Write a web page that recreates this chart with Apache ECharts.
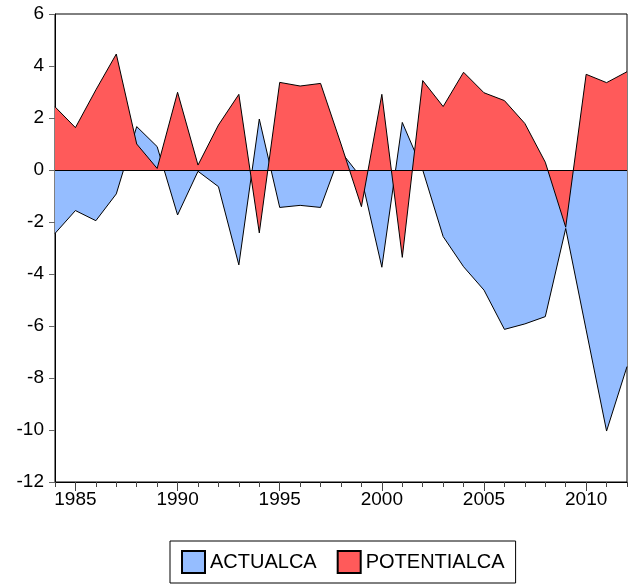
<!DOCTYPE html>
<html>
<head>
<meta charset="utf-8">
<script src="https://cdn.jsdelivr.net/npm/echarts@6/dist/echarts.min.js"></script>
<style>
  html, body { margin: 0; padding: 0; background: #fff; }
  #chart { width: 638px; height: 584px; }
</style>
</head>
<body>
<div id="chart"></div>
<script>
const years = [1984, 1985, 1986, 1987, 1988, 1989, 1990, 1991, 1992, 1993,
  1994, 1995, 1996, 1997, 1998, 1999, 2000, 2001, 2002, 2003,
  2004, 2005, 2006, 2007, 2008, 2009, 2010, 2011, 2012]

const actualCA = [-2.44, -1.56, -1.95, -0.92, 1.67, 0.9, -1.73, -0.05, -0.64, -3.65,
  1.96, -1.44, -1.36, -1.44, 0.7, -0.3, -3.74, 1.83, 0.0, -2.56,
  -3.72, -4.62, -6.13, -5.92, -5.64, -2.25, -6.15, -10.04, -7.56]

const potentialCA = [2.43, 1.63, 3.08, 4.46, 1.0, 0.06, 2.99, 0.19, 1.73, 2.91,
  -2.42, 3.37, 3.23, 3.33, 1.0, -1.41, 2.91, -3.36, 3.44, 2.44,
  3.76, 2.97, 2.67, 1.79, 0.3, -2.2, 3.68, 3.36, 3.78]

const labelYears = [1985, 1990, 1995, 2000, 2005, 2010]

const pairs = (vals) => years.map((y, i) => [y, vals[i]])

const chart = echarts.init(document.getElementById('chart'), null, { renderer: 'canvas' })

const font = 'Liberation Sans, Arial, sans-serif'

chart.setOption({
  animation: false,
  grid: {
    left: 55, right: 11, top: 14, bottom: 102,
    show: true, borderColor: '#000', borderWidth: 1,
  },
  legend: {
    top: 541,
    left: 170,
    data: ['ACTUALCA', 'POTENTIALCA'],
    icon: 'rect',
    itemWidth: 23,
    itemHeight: 22,
    itemGap: 20,
    padding: [9, 11, 9, 11],
    borderColor: '#000',
    borderWidth: 1,
    textStyle: { fontSize: 20, fontFamily: font, color: '#000' },
  },
  xAxis: [
    {
      type: 'value',
      min: 1984,
      max: 2012,
      interval: 1,
      splitLine: { show: false },
      axisLine: { onZero: false, lineStyle: { color: '#000' } },
      axisTick: { length: 5, lineStyle: { color: '#444' } },
      axisLabel: {
        fontSize: 19,
        fontFamily: font,
        color: '#000',
        margin: 8,
        formatter: (v) => (labelYears.includes(v) ? String(v) : ''),
      },
    },
    {
      // longer ticks at the labelled years
      type: 'value',
      position: 'bottom',
      min: 1984,
      max: 2012,
      splitLine: { show: false },
      axisLine: { show: false, onZero: false },
      axisLabel: { show: false, customValues: labelYears },
      axisTick: { length: 9, customValues: labelYears, lineStyle: { color: '#444' } },
    },
  ],
  yAxis: {
    type: 'value',
    min: -12,
    max: 6,
    interval: 2,
    splitLine: { show: false },
    axisLine: { show: true, lineStyle: { color: '#000' } },
    axisTick: { show: true, length: 6, lineStyle: { color: '#666' } },
    axisLabel: { fontSize: 19, fontFamily: font, color: '#000', margin: 11 },
  },
  series: [
    {
      name: 'ACTUALCA',
      type: 'line',
      data: pairs(actualCA),
      showSymbol: false,
      lineStyle: { color: '#000', width: 1 },
      itemStyle: { color: '#95BDFF', borderColor: '#000', borderWidth: 1 },
      areaStyle: { color: '#95BDFF', opacity: 1, origin: 'auto' },
      z: 2,
    },
    {
      name: 'POTENTIALCA',
      type: 'line',
      data: pairs(potentialCA),
      showSymbol: false,
      lineStyle: { color: '#000', width: 1 },
      itemStyle: { color: '#FF5A5A', borderColor: '#000', borderWidth: 1 },
      areaStyle: { color: '#FF5A5A', opacity: 1, origin: 'auto' },
      z: 3,
      markLine: {
        silent: true,
        symbol: ['none', 'none'],
        label: { show: false },
        lineStyle: { color: '#000', type: 'solid', width: 1 },
        data: [{ yAxis: 0 }],
      },
    },
  ],
})
</script>
</body>
</html>
